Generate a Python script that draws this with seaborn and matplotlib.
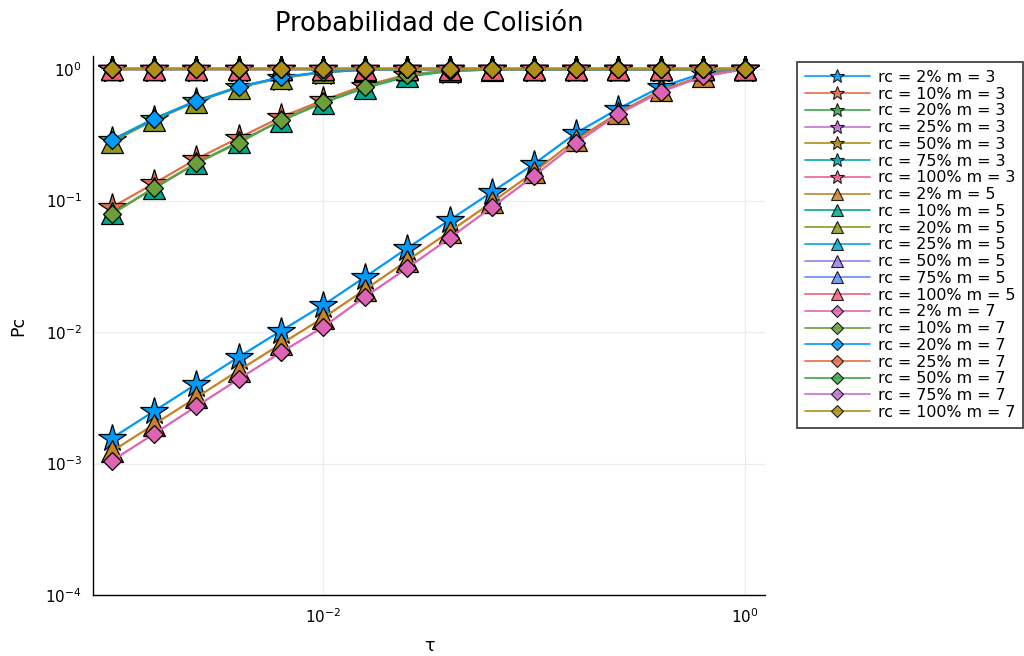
import matplotlib
matplotlib.use("Agg")
import matplotlib.pyplot as plt
from matplotlib.lines import Line2D
from matplotlib.ticker import NullLocator
import seaborn as sns
import pandas as pd

# tau values (x axis, log scale)
tau = [0.001, 0.00158, 0.00251, 0.00398, 0.00631, 0.01, 0.0158, 0.0251,
       0.0398, 0.0631, 0.1, 0.158, 0.251, 0.398, 0.631, 1.0]

rc_levels = ["2%", "10%", "20%", "25%", "50%", "75%", "100%"]
m_levels = [3, 5, 7]

# rc = 2%
pc_rc2_m3 = [0.00156, 0.00250, 0.00402, 0.00645, 0.0102, 0.0160, 0.0262, 0.0435,
             0.0711, 0.116, 0.190, 0.326, 0.50, 0.73, 0.93, 1.0]
pc_rc2_m5 = [0.00124, 0.00198, 0.00318, 0.00510, 0.0081, 0.0128, 0.0210, 0.0350,
             0.0580, 0.097, 0.165, 0.290, 0.465, 0.69, 0.89, 1.0]
pc_rc2_m7 = [0.00105, 0.00168, 0.00272, 0.00438, 0.0070, 0.0109, 0.0185, 0.0307,
             0.0519, 0.089, 0.154, 0.274, 0.455, 0.67, 0.88, 1.0]

# rc = 10%
pc_rc10_m3 = [0.089, 0.135, 0.207, 0.30, 0.43, 0.58, 0.75, 0.91,
              0.975, 0.995, 1.0, 1.0, 1.0, 1.0, 1.0, 1.0]
pc_rc10_m5 = [0.080, 0.124, 0.192, 0.28, 0.405, 0.555, 0.72, 0.88,
              0.965, 0.993, 1.0, 1.0, 1.0, 1.0, 1.0, 1.0]
pc_rc10_m7 = [0.079, 0.125, 0.193, 0.274, 0.41, 0.56, 0.73, 0.90,
              0.97, 0.995, 1.0, 1.0, 1.0, 1.0, 1.0, 1.0]

# rc = 20%
pc_rc20_m3 = [0.29, 0.42, 0.575, 0.735, 0.86, 0.95, 0.99, 1.0,
              1.0, 1.0, 1.0, 1.0, 1.0, 1.0, 1.0, 1.0]
pc_rc20_m5 = [0.28, 0.41, 0.565, 0.725, 0.855, 0.945, 0.99, 1.0,
              1.0, 1.0, 1.0, 1.0, 1.0, 1.0, 1.0, 1.0]
pc_rc20_m7 = [0.288, 0.417, 0.571, 0.73, 0.87, 0.95, 0.99, 1.0,
              1.0, 1.0, 1.0, 1.0, 1.0, 1.0, 1.0, 1.0]

# rc >= 25% : always collides
pc_saturated = [1.0, 1.0, 1.0, 1.0, 1.0, 1.0, 1.0, 1.0,
                1.0, 1.0, 1.0, 1.0, 1.0, 1.0, 1.0, 1.0]

series = {
    (3, "2%"): pc_rc2_m3, (3, "10%"): pc_rc10_m3, (3, "20%"): pc_rc20_m3,
    (5, "2%"): pc_rc2_m5, (5, "10%"): pc_rc10_m5, (5, "20%"): pc_rc20_m5,
    (7, "2%"): pc_rc2_m7, (7, "10%"): pc_rc10_m7, (7, "20%"): pc_rc20_m7,
}

# Plots.jl default palette, cycled over 21 series
plots_palette = ["#009AFA", "#E36F47", "#3EA44E", "#C371D2", "#AC8E18", "#00A9AD",
                 "#ED5E93", "#C68225", "#00A98D", "#8E971E", "#00A9CD", "#9B7FE9",
                 "#618DF6", "#F05F73", "#DD64B5", "#6A9F3A"]

marker_style = {3: ("*", 20.5, 10.5), 5: ("^", 16.0, 9.0), 7: ("D", 9.2, 6.4)}

rows = []
labels = []
for m in m_levels:
    for rc in rc_levels:
        lab = f"rc = {rc} m = {m}"
        labels.append(lab)
        vals = series.get((m, rc), pc_saturated)
        for t, p in zip(tau, vals):
            rows.append({"tau": t, "pc": p, "label": lab, "m": m})
df = pd.DataFrame(rows)

colors = {lab: plots_palette[i % len(plots_palette)] for i, lab in enumerate(labels)}

sns.set_style("white")
plt.rcParams["font.family"] = ["DejaVu Sans"]
plt.rcParams["text.color"] = "black"
plt.rcParams["axes.labelcolor"] = "black"

fig = plt.figure(figsize=(10.24, 6.56), dpi=100)
ax = fig.add_axes([93 / 1024, 1 - 595 / 656, (765 - 93) / 1024, (595 - 56) / 656])

for m in m_levels:
    mk, ms, _ = marker_style[m]
    sub = df[df["m"] == m]
    sub_labels = [l for l in labels if l.endswith(f"m = {m}")]
    sns.lineplot(data=sub, x="tau", y="pc", hue="label", hue_order=sub_labels,
                 palette=colors, marker=mk, markersize=ms, markeredgecolor="black",
                 markeredgewidth=0.9, linewidth=1.6, legend=False, ax=ax,
                 estimator=None, sort=False)

ax.set_xscale("log")
ax.set_yscale("log")
ax.set_xlim(10 ** -3.09, 10 ** 0.095)
ax.set_ylim(1e-4, 10 ** 0.1)
ax.set_xticks([1e-2, 1e0])
ax.set_yticks([1e-4, 1e-3, 1e-2, 1e-1, 1e0])
ax.xaxis.set_minor_locator(NullLocator())
ax.yaxis.set_minor_locator(NullLocator())
ax.tick_params(axis="both", direction="in", length=3, width=0.8, labelsize=11,
               colors="black")
ax.tick_params(axis="x", pad=9)
ax.tick_params(axis="y", pad=8)
ax.grid(True, color="#ececec", linewidth=0.9)
ax.set_axisbelow(True)
sns.despine(ax=ax)
for side in ["left", "bottom"]:
    ax.spines[side].set_color("black")
    ax.spines[side].set_linewidth(1.0)

ax.set_title("Probabilidad de Colisión", fontsize=18.5, pad=18, color="black")
ax.set_xlabel("τ", fontsize=12.5, labelpad=8)
ax.set_ylabel("Pc", fontsize=12.5, labelpad=13)

handles = []
for lab in labels:
    m = int(lab.split("=")[-1])
    mk, _, lms = marker_style[m]
    handles.append(Line2D([], [], color=colors[lab], marker=mk, markersize=lms,
                          markeredgecolor="black", markeredgewidth=0.8, linewidth=1.4))
leg = fig.legend(handles, labels, loc="upper left", bbox_to_anchor=(797 / 1024, 1 - 62 / 656),
                 fontsize=11.4, labelspacing=0.11, handlelength=4.1, handletextpad=0.5,
                 borderpad=0.5, borderaxespad=0, fancybox=False, framealpha=1)
leg.get_frame().set_edgecolor("#444444")
leg.get_frame().set_linewidth(1.3)
for t in leg.get_texts():
    t.set_color("black")
for h in leg.get_lines():
    h.set_alpha(0.85)

fig.savefig("out.png", dpi=100)
